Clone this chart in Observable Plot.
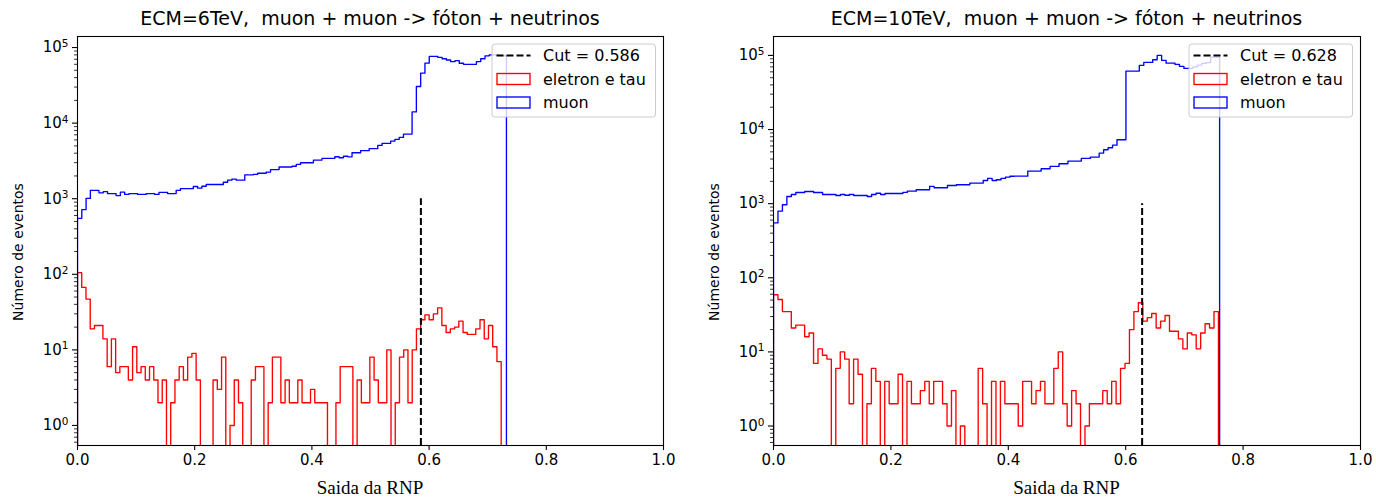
<!DOCTYPE html>
<html><head><meta charset="utf-8">
<script src="https://cdn.jsdelivr.net/npm/d3@7"></script>
<script src="https://cdn.jsdelivr.net/npm/@observablehq/plot@0.6"></script>
<style>
body{margin:0;background:#fff;}
#root{position:relative;width:1376px;height:498px;overflow:hidden;font-family:"DejaVu Sans";color:#000;}
.panel{position:absolute;top:0;}
.title{position:absolute;font-size:19px;white-space:pre;transform:translate(-50%,-50%);}
.xlab{position:absolute;font-family:"Liberation Serif";font-size:19px;white-space:pre;transform:translate(-50%,-50%);}
.ylab{position:absolute;font-size:14px;white-space:pre;transform:translate(-50%,-50%) rotate(-90deg);}
.legend{position:absolute;}
</style></head>
<body><div id="root"></div>
<script>
// ---------------- data ----------------
const titles = ["ECM=6TeV,  muon + muon -> fóton + neutrinos", "ECM=10TeV,  muon + muon -> fóton + neutrinos"];
const xLabel = "Saida da RNP";
const yLabel = "Número de eventos";
const seriesNames = ["eletron e tau", "muon"];
const cutValues = [0.586, 0.628];
const cutTop = [1000, 1000];
const xTicks = [0, 0.2, 0.4, 0.6, 0.8, 1.0];
const yTicks = [1, 10, 100, 1000, 10000, 100000];

// histogram ranges (min, max of the network output) per sample, 100 bins each
const muon6Range = [0, 0.732];
const elec6Range = [0, 0.723];
const muon10Range = [0, 0.760];
const elec10Range = [0, 0.758];

const muon6 = [550,716,1010,1290,1290,1195,1240,1170,1170,1100,
  1220,1140,1170,1170,1140,1140,1170,1170,1140,1215,
  1215,1170,1170,1290,1360,1360,1360,1450,1380,1460,
  1540,1540,1540,1540,1650,1760,1820,1760,1760,2070,
  2070,2100,2170,2170,2250,2430,2430,2630,2630,2630,
  2690,2840,2990,2990,2990,3240,3240,3420,3420,3420,
  3590,3480,3650,3580,4060,4060,4320,4320,4590,4590,
  5070,5400,5400,5790,6100,6480,7160,7160,14060,30500,
  45800,62200,76400,76400,74000,71000,68500,65000,67000,62000,
  60000,60000,60000,65000,71000,77700,80000,80000,79000,78000];
const elec6 = [105,67,47,19,21,21,14,6,14,5,
  6,6,4,11,5,6,4,6,4,2,
  4,0,2,4,6,4,8,9,4,0,
  0,0,4,3,8,0,1,4,2,0,
  0,4,6,6,0,2,8,8,2,4,
  2,2,4,2,2,3,2,2,2,0,
  0,2,6,6,6,0,4,2,2,8,
  4,2,2,10,0,2,8,10,2,10,
  19,25,29,25,30,36,21,17,19,20,
  24,17,16,16,19,25,14,21,11,7];
const muon10 = [550,792,967,1250,1330,1415,1415,1460,1460,1415,
  1415,1330,1330,1330,1290,1330,1300,1330,1290,1290,
  1290,1250,1330,1380,1330,1370,1370,1370,1370,1420,
  1475,1475,1540,1540,1540,1707,1640,1640,1640,1760,
  1760,1800,1800,1800,1890,1890,1890,2055,2190,2055,
  2100,2190,2280,2340,2350,2350,2350,2750,2750,2750,
  2960,2960,3180,3180,3450,3450,3750,3750,3750,4075,
  4075,4245,4245,4810,5340,5680,6150,7280,7280,61400,
  61400,61400,73300,80400,80400,87500,100000,85600,78700,78700,
  75700,71100,66800,66800,70000,74000,78000,80000,95000,95000];
const elec10 = [59,51,35,35,21,23,23,16,18,7,
  11,9,8,0,6,10,8,2,8,5,
  0,2,6,4,0,4,2,2,5,0,
  4,2,2,3,4,2,4,4,2,1,
  3,0,1,0,0,0,6,2,0,4,
  0,4,2,2,2,1,4,4,2,3,
  4,2,2,6,10,2,1,3,2,0,
  1,2,2,2,3,2,4,2,6,7,
  20,35,46,26,29,33,21,26,31,19,
  19,15,11,18,17,11,18,24,21,35];

// ---------------- drawing ----------------
const FLOOR = 1e-3; // empty bins fall below the axis (clipped), as on a log axis
function stepPoints(counts, range) {
  const n = counts.length, w = (range[1] - range[0]) / n;
  const pts = [{x: range[0], y: FLOOR}];
  counts.forEach((c, i) => pts.push({x: range[0] + i * w, y: c > 0 ? c : FLOOR}));
  pts.push({x: range[1], y: counts[n - 1] > 0 ? counts[n - 1] : FLOOR});
  pts.push({x: range[1], y: FLOOR});
  return pts;
}
const expOf = d => String(Math.round(Math.log10(d)));
const minorTicks = [];
for (let k = -1; k <= 5; k++) for (let m = 2; m <= 9; m++) minorTicks.push(m * Math.pow(10, k));

const panels = [
  {left: 0, mL: 77, mR: 25, yDomain: [0.543, 1.4e5], muon: muon6, elec: elec6, mr: muon6Range, er: elec6Range, cut: cutValues[0], top: cutTop[0], title: titles[0], legendX: 491.5},
  {left: 688, mL: 85, mR: 16, yDomain: [0.546, 1.8e5], muon: muon10, elec: elec10, mr: muon10Range, er: elec10Range, cut: cutValues[1], top: cutTop[1], title: titles[1], legendX: 1188.5}
];
const W = 688, H = 498, mT = 36, mB = 53;
const root = document.getElementById("root");

panels.forEach(p => {
  const minor = minorTicks.filter(v => v >= p.yDomain[0] && v <= p.yDomain[1]);
  const chart = Plot.plot({
    width: W, height: H,
    marginLeft: p.mL, marginRight: p.mR, marginTop: mT, marginBottom: mB,
    style: {fontFamily: "DejaVu Sans", fontSize: "15px", color: "#000", background: "transparent"},
    x: {domain: [0, 1]},
    y: {type: "log", domain: p.yDomain},
    marks: [
      Plot.line(stepPoints(p.elec, p.er), {x: "x", y: "y", curve: "step-after", stroke: "#ff0000", strokeWidth: 1.35, clip: true}),
      Plot.line(stepPoints(p.muon, p.mr), {x: "x", y: "y", curve: "step-after", stroke: "#0000ff", strokeWidth: 1.35, clip: true}),
      Plot.ruleX([p.cut], {y1: p.yDomain[0], y2: p.top, stroke: "#000", strokeWidth: 2, strokeDasharray: "7,3", clip: true}),
      Plot.axisX(xTicks, {tickFormat: d3.format(".1f"), tickSize: 5, tickPadding: 4, label: null, fontSize: 15, strokeWidth: 1.1}),
      Plot.axisY(yTicks, {tickFormat: d => "10^" + expOf(d), tickSize: 5, tickPadding: 4, label: null, fontSize: 15, strokeWidth: 1.1}),
      Plot.axisY(minor, {tickFormat: () => "", tickSize: 3, label: null, strokeWidth: 0.8}),
      Plot.frame({stroke: "#000", strokeWidth: 1.1})
    ]
  });
  // render the power-of-ten labels with a raised exponent (as real text)
  chart.querySelectorAll("text").forEach(t => {
    const s = t.textContent;
    if (/^10\^-?\d+$/.test(s)) {
      const e = s.split("^")[1];
      t.innerHTML = `10<tspan dy="-0.5em" font-size="0.7em">${e}</tspan>`;
    }
  });
  chart.classList.add("panel");
  chart.style.left = p.left + "px";
  root.appendChild(chart);

  const cx = p.left + p.mL + (W - p.mL - p.mR) / 2;
  const t = document.createElement("div");
  t.className = "title"; t.textContent = p.title;
  t.style.left = cx + "px"; t.style.top = "18px";
  root.appendChild(t);

  const xl = document.createElement("div");
  xl.className = "xlab"; xl.textContent = xLabel;
  xl.style.left = cx + "px"; xl.style.top = "488px";
  root.appendChild(xl);

  const yl = document.createElement("div");
  yl.className = "ylab"; yl.textContent = yLabel;
  yl.style.left = (p.left + p.mL - 59) + "px"; yl.style.top = "252px";
  root.appendChild(yl);

  // legend
  const ns = "http://www.w3.org/2000/svg";
  const lg = document.createElementNS(ns, "svg");
  lg.setAttribute("class", "legend");
  lg.setAttribute("width", 166); lg.setAttribute("height", 76);
  lg.style.left = (p.legendX - 1) + "px"; lg.style.top = "43px";
  lg.style.fontFamily = "DejaVu Sans"; lg.style.fontSize = "16px";
  const items = [
    {type: "dash", label: "Cut = " + p.cut.toFixed(3)},
    {type: "rect", color: "#ff0000", label: seriesNames[0]},
    {type: "rect", color: "#0000ff", label: seriesNames[1]}
  ];
  let html = `<rect x="1" y="1" width="163.5" height="73" rx="3" fill="#fff" fill-opacity="0.8" stroke="#cccccc" stroke-width="1"/>`;
  items.forEach((it, i) => {
    const cy = 12.5 + i * 23.5;
    if (it.type === "dash") html += `<line x1="5.5" x2="39.5" y1="${cy}" y2="${cy}" stroke="#000" stroke-width="2" stroke-dasharray="7,3"/>`;
    else html += `<rect x="6" y="${cy - 5.5}" width="33" height="11" fill="none" stroke="${it.color}" stroke-width="1.35"/>`;
    html += `<text x="52" y="${cy}" dy="0.35em" fill="#000">${it.label}</text>`;
  });
  lg.innerHTML = html;
  root.appendChild(lg);
});
</script></body></html>
